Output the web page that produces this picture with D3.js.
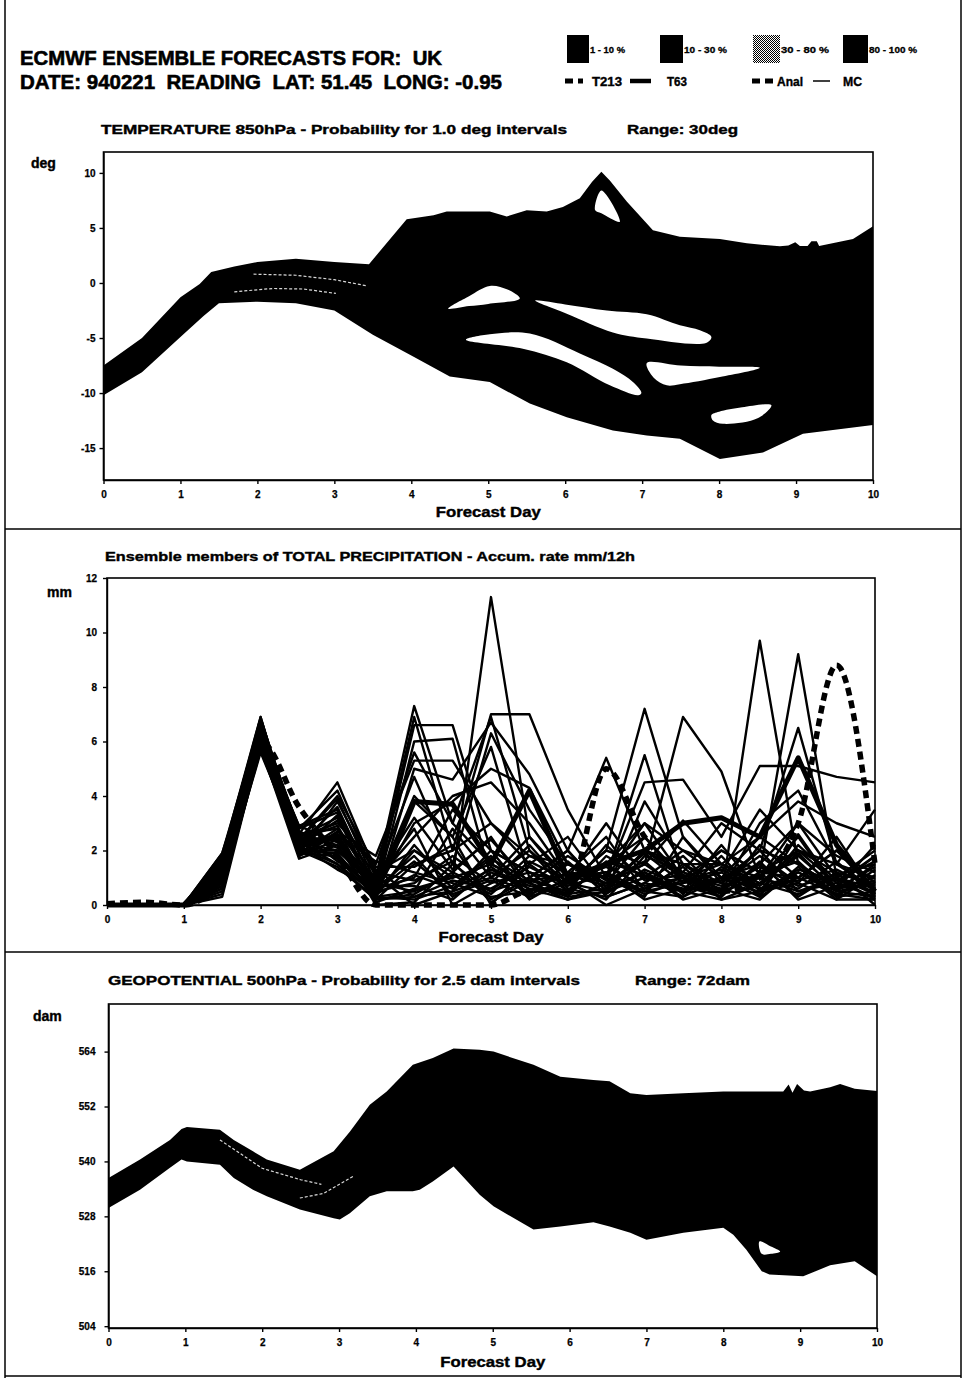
<!DOCTYPE html>
<html>
<head>
<meta charset="utf-8">
<script src="https://d3js.org/d3.v7.min.js"></script>
<style>
    body { margin: 0; background: #fff; }
    svg { display: block; font-family: "Liberation Sans", Arial, sans-serif; }
    .frame { fill: none; stroke: #000; stroke-width: 1.6; }
    .axis path, .axis line { stroke: #000; stroke-width: 1.4; }
    .axis text { font-size: 10px; font-weight: bold; fill: #000; stroke: #000; stroke-width: 0.25;
        font-family: "Liberation Sans", Arial, sans-serif; }
    .band { fill: #000; }
    .hole { fill: #fff; }
    .streak { fill: none; stroke: #fff; stroke-width: 1.2; stroke-dasharray: 3,2; opacity: 0.85; }
    .member { fill: none; stroke: #000; stroke-width: 2.4; stroke-linejoin: round; }
    .lbl { font-weight: bold; fill: #000; stroke: #000; stroke-width: 0.4; }
</style>
</head>
<body>
<svg width="965" height="1378"></svg>
<script>
// ---- header / legend text
var headerLines = ["ECMWF ENSEMBLE FORECASTS FOR:  UK", "DATE: 940221  READING  LAT: 51.45  LONG: -0.95"];
var bandLabels = ["1 - 10 %", "10 - 30 %", "30 - 80 %", "80 - 100 %"];
var lineLabels = ["T213", "T63", "Anal", "MC"];

var dayTicks = [0, 1, 2, 3, 4, 5, 6, 7, 8, 9, 10];

// ---- temperature 850hPa, outline of probability area [day, deg]
var tempTicks = [-15, -10, -5, 0, 5, 10];
var tempUpper = [[0, -7.5], [0.5, -5.0], [1.0, -1.3], [1.25, -0.1], [1.4, 1.0], [1.7, 1.5], [2.0, 1.9], [2.5, 2.2],
    [3.0, 1.9], [3.45, 1.7], [3.7, 3.8], [3.94, 5.8], [4.29, 6.15], [4.46, 6.5], [5.02, 6.5], [5.24, 6.05],
    [5.5, 6.6], [5.76, 6.5], [5.97, 6.9], [6.19, 7.7], [6.35, 9.2], [6.47, 10.1], [6.58, 9.3], [6.8, 7.4],
    [7.14, 4.8], [7.49, 4.2], [8.01, 4.0], [8.36, 3.6], [8.79, 3.33], [8.9, 3.4], [8.99, 3.7], [9.05, 3.35],
    [9.15, 3.35], [9.2, 3.8], [9.27, 3.8], [9.3, 3.35], [9.74, 4.0], [10, 5.15]];
var tempLower = [[0, -10.2], [0.5, -8.1], [1.0, -4.9], [1.3, -3.0], [1.5, -1.85], [2.0, -1.7], [2.5, -1.85],
    [3.0, -2.5], [3.5, -4.7], [4.03, -6.7], [4.5, -8.5], [5.02, -9.0], [5.54, -10.96], [6.02, -12.2],
    [6.62, -13.4], [7.06, -13.85], [7.49, -14.15], [8.01, -16.0], [8.57, -15.4], [9.09, -13.7], [10, -12.9]];
var tempHoles = [
    [[4.48, -2.33], [4.75, -1.2], [5.02, -0.27], [5.25, -0.6], [5.41, -1.4], [5.0, -1.9], [4.75, -2.1]],
    [[5.61, -1.6], [6.0, -1.95], [6.54, -2.5], [7.06, -2.85], [7.49, -3.85], [7.75, -4.3], [7.9, -4.9],
        [7.83, -5.45], [7.06, -5.05], [6.62, -4.5], [6.02, -2.8]],
    [[4.71, -5.15], [5.02, -4.66], [5.54, -4.6], [6.19, -6.4], [6.62, -7.8], [6.88, -9.0], [6.99, -10.0],
        [6.95, -10.2], [6.58, -9.3], [6.02, -7.2], [5.45, -5.97]],
    [[7.06, -7.27], [7.5, -7.5], [8.0, -7.6], [8.53, -7.7], [8.01, -8.55], [7.49, -9.2], [7.32, -9.3], [7.15, -8.6]],
    [[7.9, -12.0], [8.0, -11.7], [8.3, -11.3], [8.68, -11.1], [8.5, -12.3], [8.05, -12.8], [7.92, -12.5]],
    [[6.39, 6.6], [6.47, 8.4], [6.71, 5.55], [6.47, 6.34]]
];
var tempStreaks = [
    [[1.95, 0.8], [2.5, 0.7], [3.0, 0.3], [3.43, -0.27]],
    [[1.7, -0.8], [2.2, -0.5], [2.6, -0.55], [3.02, -0.95]]
];

// ---- total precipitation, 12h steps
var precipTicks = [0, 2, 4, 6, 8, 10, 12];
var precipDays = [0, 0.5, 1, 1.5, 2, 2.5, 3, 3.5, 4, 4.5, 5, 5.5, 6, 6.5, 7, 7.5, 8, 8.5, 9, 9.5, 10];
var precipMembers = [
    [0, 0, 0, 1.2, 6.8, 2.6, 4.5, 1.2, 2.0, 1.0, 11.3, 2.5, 0.8, 1.5, 0.6, 1.0, 0.4, 1.2, 2.0, 0.8, 0.3],
    [0, 0, 0, 1.5, 6.6, 2.8, 4.2, 1.0, 7.3, 3.0, 1.5, 0.8, 0.3, 0.5, 1.2, 0.5, 0.9, 2.0, 1.5, 0.6, 1.0],
    [0, 0, 0, 1.8, 6.4, 2.4, 3.9, 0.8, 6.9, 2.0, 7.0, 7.0, 3.5, 1.0, 0.5, 1.5, 0.8, 0.5, 1.0, 2.0, 0.5],
    [0, 0, 0, 1.6, 6.2, 2.2, 3.6, 0.6, 6.6, 6.6, 2.0, 1.2, 0.8, 2.0, 7.2, 2.5, 1.0, 0.6, 1.2, 0.4, 0.2],
    [0, 0, 0, 1.0, 6.0, 2.0, 3.3, 0.4, 6.0, 6.1, 1.0, 0.5, 1.2, 0.8, 1.5, 6.9, 4.9, 1.0, 0.5, 1.0, 0.6],
    [0, 0, 0, 0.8, 5.8, 2.5, 3.0, 1.5, 5.6, 3.0, 6.9, 2.0, 0.5, 1.5, 3.0, 1.0, 0.3, 9.7, 1.5, 0.6, 0.8],
    [0, 0, 0, 1.3, 6.5, 1.8, 2.7, 1.8, 5.3, 5.3, 3.0, 1.5, 2.5, 0.6, 2.0, 1.0, 2.0, 1.2, 9.2, 1.0, 0.4],
    [0, 0, 0, 0.5, 6.9, 2.1, 2.5, 0.3, 5.0, 4.6, 6.7, 4.8, 2.0, 5.4, 2.0, 1.2, 0.8, 2.0, 6.5, 1.5, 0.6],
    [0, 0, 0, 1.7, 6.3, 2.9, 2.3, 1.0, 4.7, 1.5, 6.3, 3.5, 1.5, 1.0, 4.5, 4.6, 2.5, 5.1, 5.1, 4.7, 4.5],
    [0, 0, 0, 1.9, 6.7, 2.3, 2.0, 0.7, 4.0, 2.5, 5.8, 1.0, 2.0, 0.5, 3.8, 1.5, 0.5, 3.0, 4.2, 1.5, 3.5],
    [0, 0, 0, 0.3, 5.9, 1.9, 1.8, 0.5, 3.0, 3.8, 5.0, 4.3, 1.5, 0.8, 2.5, 1.0, 1.5, 2.5, 3.8, 3.0, 2.5],
    [0, 0, 0, 1.1, 6.1, 2.7, 1.6, 0.9, 2.5, 4.0, 4.5, 3.0, 1.0, 3.0, 1.0, 0.5, 1.0, 1.5, 3.0, 1.0, 2.0],
    [0, 0, 0, 0.6, 5.7, 2.0, 1.4, 0.2, 1.5, 2.0, 3.0, 1.8, 1.2, 1.0, 3.0, 2.0, 1.5, 1.0, 2.5, 0.5, 1.5],
    [0, 0, 0, 1.4, 6.4, 2.4, 2.9, 0.6, 1.0, 3.5, 2.0, 1.2, 0.8, 2.0, 1.5, 3.1, 1.5, 0.8, 2.0, 1.5, 1.0],
    [0, 0, 0, 1.0, 6.0, 2.6, 2.2, 0.1, 0.6, 1.0, 1.5, 0.8, 0.2, 0.5, 1.0, 2.0, 1.0, 2.5, 1.5, 0.3, 0.5],
    [0, 0, 0, 1.6, 6.6, 2.2, 3.1, 1.3, 0.3, 0.5, 1.0, 2.5, 1.0, 1.2, 0.5, 0.8, 2.0, 1.2, 1.0, 2.0, 0.8],
    [0, 0, 0, 0.9, 6.2, 1.8, 2.4, 0.0, 0.1, 1.5, 0.5, 1.0, 2.0, 0.3, 0.8, 0.5, 0.2, 0.5, 0.8, 0.2, 0.2],
    [0, 0, 0, 1.5, 6.8, 2.0, 2.0, 0.8, 3.8, 2.5, 0.0, 1.5, 0.5, 1.5, 2.5, 0.8, 1.2, 3.5, 2.0, 1.2, 0.0],
    [0, 0, 0, 1.2, 5.9, 2.3, 1.5, 0.4, 2.0, 1.2, 2.5, 0.5, 1.5, 1.0, 5.5, 1.0, 0.5, 1.0, 3.0, 1.8, 1.2],
    [0, 0, 0, 0.7, 6.5, 2.8, 3.4, 0.3, 0.5, 2.8, 1.0, 2.0, 0.8, 0.2, 1.8, 1.2, 3.0, 2.0, 0.5, 0.8, 1.8],
    [0, 0, 0, 1.8, 6.9, 2.1, 2.6, 1.6, 1.2, 0.8, 0.3, 0.5, 1.2, 2.5, 0.5, 0.3, 1.0, 0.3, 1.2, 0.5, 0.3],
    [0, 0, 0, 0.4, 6.1, 2.5, 1.7, 0.5, 0.8, 1.8, 0.8, 1.2, 0.3, 1.8, 1.0, 0.6, 0.5, 1.5, 0.3, 1.2, 0.7],
    [0, 0, 0, 1.3, 6.3, 1.9, 3.8, 1.1, 0.0, 0.5, 2.0, 0.3, 0.8, 0.5, 2.0, 1.5, 1.5, 0.8, 1.8, 0.6, 1.4],
    [0, 0, 0, 1.1, 6.7, 2.6, 2.8, 0.2, 0.4, 1.2, 0.5, 1.8, 1.5, 1.0, 0.3, 2.5, 0.8, 1.8, 0.8, 2.5, 0.4],
    [0, 0, 0, 0.8, 5.6, 2.2, 1.3, 0.6, 1.8, 0.3, 1.2, 0.6, 0.2, 0.8, 1.5, 0.5, 2.2, 0.5, 2.2, 0.9, 1.6],
    [0, 0, 0, 1.7, 6.4, 2.7, 2.1, 0.9, 2.8, 0.0, 0.8, 2.2, 0.6, 0.3, 0.8, 1.8, 0.4, 2.2, 1.0, 0.4, 0.9],
    [0, 0, 0, 1.4, 6.0, 2.0, 1.9, 0.3, 0.2, 0.7, 1.8, 0.2, 1.0, 1.2, 0.2, 0.6, 1.0, 1.0, 0.6, 1.6, 0.3],
    [0, 0, 0, 0.9, 6.6, 2.4, 4.0, 1.4, 1.4, 2.2, 0.2, 1.0, 0.4, 0.6, 1.2, 0.2, 0.6, 0.2, 1.4, 0.2, 1.1],
    [0, 0, 0, 1.9, 6.2, 2.9, 3.5, 0.7, 0.7, 0.2, 1.4, 0.4, 0.9, 0.0, 0.6, 1.4, 0.2, 0.8, 0.4, 1.0, 0.2],
    [0, 0, 0, 0.6, 5.8, 1.7, 2.2, 1.0, 3.2, 1.3, 2.4, 0.8, 1.8, 0.9, 1.6, 0.4, 1.8, 0.3, 2.6, 0.6, 2.2],
    [0, 0, 0, 1.0, 6.3, 2.1, 1.5, 0.2, 0.3, 0.9, 0.6, 1.4, 0.7, 1.1, 0.4, 0.9, 1.3, 0.6, 0.9, 1.3, 0.6],
    [0, 0, 0, 1.6, 6.5, 2.5, 3.2, 0.5, 1.6, 0.4, 0.9, 0.3, 1.6, 0.4, 1.3, 0.7, 0.3, 1.6, 0.2, 0.7, 1.8],
    [0, 0, 0, 0.7, 6.1, 1.8, 2.6, 1.2, 0.9, 1.6, 0.1, 0.9, 0.5, 2.2, 0.9, 1.1, 0.7, 1.1, 1.6, 0.3, 1.3],
    [0, 0, 0, 1.7, 6.8, 2.2, 2.4, 0.4, 1.1, 0.6, 1.7, 0.9, 1.1, 0.7, 1.9, 0.8, 1.2, 0.4, 1.3, 0.9, 0.5],
    [0, 0, 0, 1.3, 6.2, 1.9, 2.8, 0.8, 0.5, 1.1, 0.4, 1.6, 0.9, 1.4, 0.7, 1.0, 0.6, 1.4, 0.7, 1.1, 1.5],
    [0, 0, 0, 1.5, 6.0, 2.3, 1.7, 0.3, 2.2, 0.6, 1.3, 0.7, 0.4, 1.6, 1.1, 0.3, 1.4, 0.7, 1.9, 0.5, 0.8]
];
var precipT63 = [0, 0, 0, 1.5, 6.7, 2.3, 2.5, 0.4, 3.8, 3.7, 1.5, 4.2, 1.0, 1.5, 2.0, 3.0, 3.2, 2.5, 5.4, 2.2, 0.5];
var precipT213 = [0.05, 0.1, 0.0, 1.0, 6.0, 3.6, 1.8, 0.0, 0, 0, 0, 0.5, 0.5, 5.0, 2.5, 1.0, 0.5, 1.0, 3.0, 8.8, 1.5];

// ---- geopotential 500hPa outline [day, dam]
var geoTicks = [504, 516, 528, 540, 552, 564];
var geoUpper = [[0, 536.4], [0.41, 540.4], [0.8, 544.7], [0.95, 547.1], [1.02, 547.5], [1.45, 546.9],
    [1.63, 544.7], [1.88, 542.2], [2.06, 540.4], [2.49, 538.2], [2.93, 542.2], [3.14, 546.5], [3.4, 552.4],
    [3.62, 555.3], [3.96, 561.1], [4.22, 562.6], [4.49, 564.7], [4.83, 564.4], [5.01, 564.0], [5.53, 561.1],
    [5.88, 558.5], [6.31, 557.8], [6.52, 557.5], [6.79, 554.9], [7.0, 554.5], [7.48, 554.9], [8.0, 555.3],
    [8.5, 555.3], [8.78, 555.3], [8.85, 556.8], [8.9, 555.0], [8.96, 556.9], [9.05, 555.5], [9.13, 555.3],
    [9.39, 556.2], [9.52, 556.9], [9.71, 555.9], [10, 555.4]];
var geoLower = [[0, 529.8], [0.41, 533.8], [0.8, 538.6], [0.95, 540.4], [1.02, 540.0], [1.45, 539.3],
    [1.63, 536.4], [1.88, 533.8], [2.06, 532.4], [2.49, 529.5], [2.93, 527.6], [3.01, 527.3], [3.14, 528.7],
    [3.4, 532.4], [3.62, 533.5], [3.96, 533.5], [4.05, 533.8], [4.22, 535.6], [4.49, 538.9], [4.83, 532.7],
    [5.01, 530.2], [5.53, 525.1], [5.88, 525.8], [6.31, 526.7], [6.52, 525.8], [6.79, 524.4], [7.0, 522.9],
    [7.48, 524.4], [8.0, 525.5], [8.13, 524.0], [8.3, 520.7], [8.5, 516.0], [8.6, 515.3], [9.04, 514.9],
    [9.39, 517.3], [9.71, 518.2], [10, 514.9]];
var geoHoles = [
    [[8.47, 522.5], [8.62, 521.4], [8.74, 520.3], [8.62, 519.8], [8.5, 519.8]]
];
var geoStreaks = [
    [[1.45, 544.7], [2.0, 538.5], [2.5, 536.0], [2.77, 535.0]],
    [[2.49, 532.0], [2.8, 533.0], [3.18, 536.7]]
];

var svg = d3.select("svg");

var defs = svg.append("defs");
var pat = defs.append("pattern").attr("id", "stipple")
    .attr("width", 2).attr("height", 2).attr("patternUnits", "userSpaceOnUse");
pat.append("rect").attr("width", 2).attr("height", 2).attr("fill", "#fff");
pat.append("rect").attr("width", 1).attr("height", 1).attr("fill", "#000");
pat.append("rect").attr("x", 1).attr("y", 1).attr("width", 1).attr("height", 1).attr("fill", "#000");

// page rules
var rules = [[5, 0, 5, 1378], [961, 0, 961, 1378], [5, 529, 961, 529], [5, 952, 961, 952], [5, 1376, 961, 1376]];
svg.append("g").selectAll("line").data(rules).enter().append("line")
    .attr("x1", function (d) { return d[0]; }).attr("y1", function (d) { return d[1]; })
    .attr("x2", function (d) { return d[2]; }).attr("y2", function (d) { return d[3]; })
    .attr("stroke", "#000").attr("stroke-width", 1.5);

function text(str, x, y, size, len, anchor) {
    var t = svg.append("text").attr("class", "lbl")
        .attr("x", x).attr("y", y)
        .style("font-size", size + "px")
        .style("white-space", "pre")
        .attr("text-anchor", anchor || "start")
        .text(str);
    if (len) t.attr("textLength", len).attr("lengthAdjust", "spacingAndGlyphs");
    return t;
}

// header
text(headerLines[0], 20, 65, 20.5, 422).style("stroke-width", 0.6);
text(headerLines[1], 20, 89, 20.5, 482).style("stroke-width", 0.6);

// legend row 1 : probability bands
var bandX = [567, 660, 753, 843];
var bandW = [22, 23, 27, 25];
var bandLen = [35, 43, 48, 48];
svg.append("g").selectAll("rect").data(bandLabels).enter().append("rect")
    .attr("x", function (d, i) { return bandX[i]; })
    .attr("y", 35).attr("height", 28)
    .attr("width", function (d, i) { return bandW[i]; })
    .attr("fill", function (d, i) { return i === 2 ? "url(#stipple)" : "#000"; });
bandLabels.forEach(function (d, i) {
    text(d, bandX[i] + bandW[i] + 1, 53, 9, bandLen[i]).style("stroke-width", 0.3);
});

// legend row 2 : line styles
var lineX = [565, 630, 752, 813];
var lineStyle = [
    {w: 5, dash: "8,5", len: 18},
    {w: 4.5, dash: null, len: 21},
    {w: 5, dash: "8,5", len: 21},
    {w: 1.5, dash: null, len: 17}
];
var lineTextX = [592, 667, 777, 843];
var lineTextLen = [30, 20, 26, 19];
lineLabels.forEach(function (d, i) {
    var s = lineStyle[i];
    svg.append("line").attr("x1", lineX[i]).attr("x2", lineX[i] + s.len)
        .attr("y1", 81).attr("y2", 81)
        .attr("stroke", "#000").attr("stroke-width", s.w)
        .attr("stroke-dasharray", s.dash);
    text(d, lineTextX[i], 86, 13.5, lineTextLen[i]);
});

function outlinePath(pts, x, y, curve) {
    return d3.line()
        .x(function (d) { return x(d[0]); })
        .y(function (d) { return y(d[1]); })
        .curve(curve || d3.curveLinearClosed)(pts);
}
var holeCurve = d3.curveCatmullRomClosed.alpha(0.5);

function drawAxes(x, y, yTicks, yPad, unit, unitPos, xLabelY) {
    svg.append("g").attr("class", "axis")
        .attr("transform", "translate(0," + y.range()[0] + ")")
        .call(d3.axisBottom(x).tickValues(dayTicks).tickSize(4).tickSizeOuter(0).tickPadding(7)
            .tickFormat(function (d) { return String(d); }));
    svg.append("g").attr("class", "axis")
        .attr("transform", "translate(" + x.range()[0] + ",0)")
        .call(d3.axisLeft(y).tickValues(yTicks).tickSize(4).tickSizeOuter(0).tickPadding(yPad)
            .tickFormat(function (d) { return String(d); }));
    svg.append("rect").attr("class", "frame")
        .attr("x", x.range()[0]).attr("y", y.range()[1])
        .attr("width", x.range()[1] - x.range()[0])
        .attr("height", y.range()[0] - y.range()[1]);
    text(unit, unitPos[0], unitPos[1], 14);
    text("Forecast Day", (x.range()[0] + x.range()[1]) / 2, xLabelY, 14, 105, "middle");
}

// ================= panel 1 : temperature
var x1 = d3.scaleLinear().domain([0, 10]).range([103.5, 873]);
var y1 = d3.scaleLinear().domain([-17.9, 11.9]).range([480, 152]);

text("TEMPERATURE 850hPa - Probability for 1.0 deg intervals", 101, 134, 13, 466);
text("Range: 30deg", 627, 134, 13, 111);

var p1 = svg.append("g");
p1.append("path").attr("class", "band")
    .attr("d", outlinePath(tempUpper.concat(tempLower.slice().reverse()), x1, y1));
p1.selectAll(".hole").data(tempHoles).enter().append("path").attr("class", "hole")
    .attr("d", function (d) { return outlinePath(d, x1, y1, holeCurve); });
p1.selectAll(".streak").data(tempStreaks).enter().append("path").attr("class", "streak")
    .attr("d", d3.line().x(function (d) { return x1(d[0]); }).y(function (d) { return y1(d[1]); }));
drawAxes(x1, y1, tempTicks, 4, "deg", [31, 168], 517);

// ================= panel 2 : precipitation
var x2 = d3.scaleLinear().domain([0, 10]).range([107, 875]);
var y2 = d3.scaleLinear().domain([0, 12]).range([905, 578]);

text("Ensemble members of TOTAL PRECIPITATION - Accum. rate mm/12h", 105, 561, 13, 530);

var pline = d3.line()
    .x(function (d, i) { return x2(precipDays[i]); })
    .y(function (d) { return y2(d); });
var smoothLine = d3.line()
    .x(function (d, i) { return x2(precipDays[i]); })
    .y(function (d) { return y2(d); })
    .curve(d3.curveMonotoneX);

var p2 = svg.append("g");
p2.selectAll(".member").data(precipMembers).enter().append("path").attr("class", "member")
    .attr("d", pline);
p2.append("path").attr("fill", "none").attr("stroke", "#000").attr("stroke-width", 5)
    .attr("stroke-linejoin", "round")
    .attr("d", pline(precipT63));
p2.append("path").attr("fill", "none").attr("stroke", "#000").attr("stroke-width", 5.5)
    .attr("stroke-dasharray", "8,5")
    .attr("d", smoothLine(precipT213));
drawAxes(x2, y2, precipTicks, 6, "mm", [47, 597], 942);

// ================= panel 3 : geopotential
var x3 = d3.scaleLinear().domain([0, 10]).range([108.5, 877]);
var y3 = d3.scaleLinear().domain([503.6, 574.4]).range([1328, 1004]);

text("GEOPOTENTIAL 500hPa - Probability for 2.5 dam intervals", 108, 985, 13, 472);
text("Range: 72dam", 635, 985, 13, 115);

var p3 = svg.append("g");
p3.append("path").attr("class", "band")
    .attr("d", outlinePath(geoUpper.concat(geoLower.slice().reverse()), x3, y3));
p3.selectAll(".hole").data(geoHoles).enter().append("path").attr("class", "hole")
    .attr("d", function (d) { return outlinePath(d, x3, y3, holeCurve); });
p3.selectAll(".streak").data(geoStreaks).enter().append("path").attr("class", "streak")
    .attr("d", d3.line().x(function (d) { return x3(d[0]); }).y(function (d) { return y3(d[1]); }));
drawAxes(x3, y3, geoTicks, 9, "dam", [33, 1021], 1367);
</script>
</body>
</html>
